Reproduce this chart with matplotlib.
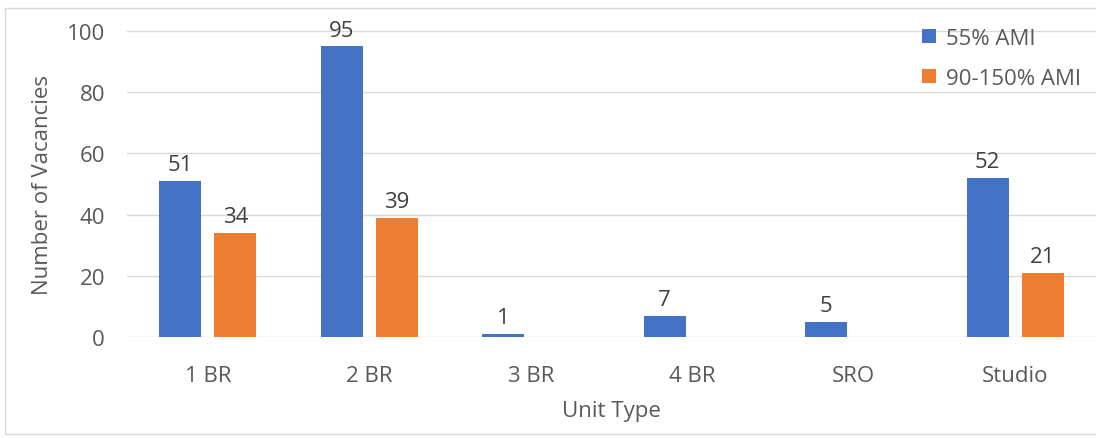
import numpy as np
import matplotlib.pyplot as plt
from matplotlib.patches import Rectangle

# Vacancies by unit type and AMI band
unit_types = ['1 BR', '2 BR', '3 BR', '4 BR', 'SRO', 'Studio']
ami_55 = [51, 95, 1, 7, 5, 52]
ami_90_150 = [34, 39, 0, 0, 0, 21]

plt.rcParams['font.family'] = ['Open Sans', 'DejaVu Sans']
grey = '#595959'

fig = plt.figure(figsize=(10.96, 4.39), dpi=100)
ax = fig.add_axes([0.116, 0.23, 0.884, 0.697])

x = np.arange(len(unit_types))
w = 0.26
b1 = ax.bar(x - 0.17, ami_55, w, color='#4472C4', label='55% AMI', zorder=3)
b2 = ax.bar(x + 0.17, ami_90_150, w, color='#ED7D31', label='90-150% AMI', zorder=3)

# value labels, skipping empty bars
for bars, vals in ((b1, ami_55), (b2, ami_90_150)):
    for bar, v in zip(bars, vals):
        if v > 0:
            ax.annotate(str(v), (bar.get_x() + bar.get_width() / 2, v),
                        xytext=(0, 4), textcoords='offset points',
                        ha='center', va='bottom', fontsize=16, color='#404040')

ax.set_xlim(-0.5, 5.5)
ax.set_ylim(0, 100)
ax.set_yticks(range(0, 101, 20))
ax.set_xticks(x)
ax.set_xticklabels(unit_types)
ax.tick_params(length=0, labelsize=16, colors=grey)
ax.tick_params(axis='x', pad=20)
ax.tick_params(axis='y', pad=16)
ax.grid(axis='y', color='#d9d9d9', linewidth=1, zorder=0)
for s in ax.spines.values():
    s.set_visible(False)

ax.set_xlabel('Unit Type', fontsize=16, color=grey, labelpad=10)
ax.set_ylabel('Number of Vacancies', fontsize=16, color=grey, labelpad=10)

leg = ax.legend(loc='upper left', bbox_to_anchor=(0.80, 1.075), frameon=False,
                fontsize=16, labelcolor=grey, handlelength=0.6, handleheight=0.6,
                handletextpad=0.45, labelspacing=0.85)

# thin frame around the chart area
fig.patches.append(Rectangle((0.005, 0.008), 1.2, 0.972, transform=fig.transFigure,
                             fill=False, edgecolor='#d9d9d9', linewidth=1))

fig.savefig('out.png', dpi=100)
